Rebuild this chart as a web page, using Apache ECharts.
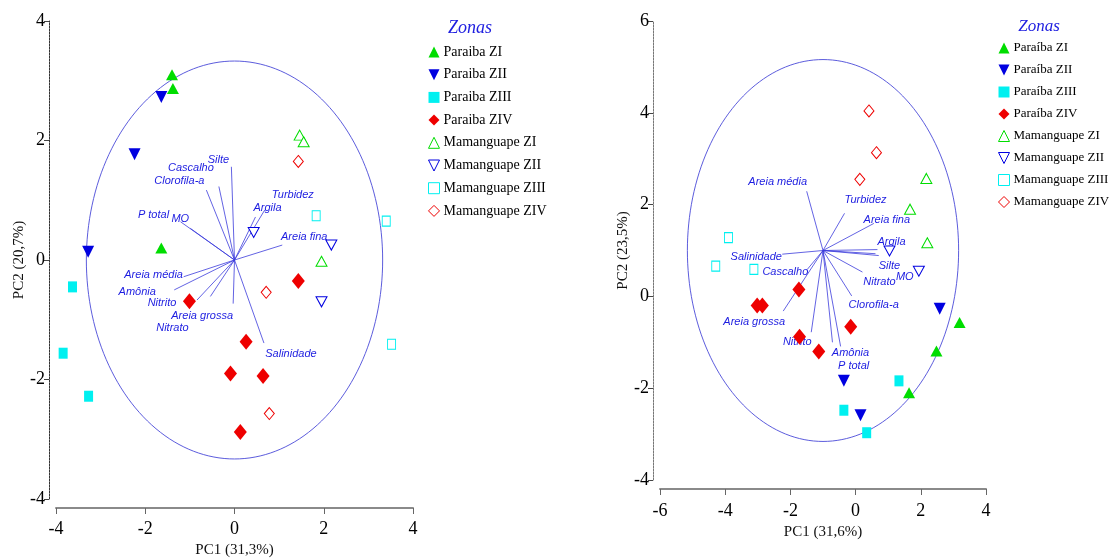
<!DOCTYPE html>
<html>
<head>
<meta charset="utf-8">
<script src="https://cdn.jsdelivr.net/npm/echarts@6/dist/echarts.min.js"></script>
<style>
  html, body { margin: 0; padding: 0; background: #fff; }
  #chart { width: 1109px; height: 558px; }
</style>
</head>
<body>
<div id="chart"></div>
<script>
// ---- Zone names (legend entries) ----
const zonesA = ['Paraiba ZI', 'Paraiba ZII', 'Paraiba ZIII', 'Paraiba ZIV',
                'Mamanguape ZI', 'Mamanguape ZII', 'Mamanguape ZIII', 'Mamanguape ZIV'];
const zonesB = ['Paraíba ZI', 'Paraíba ZII', 'Paraíba ZIII', 'Paraíba ZIV',
                'Mamanguape ZI', 'Mamanguape ZII', 'Mamanguape ZIII', 'Mamanguape ZIV'];

// ---- PCA scores, first ordination (PC1 31,3% / PC2 20,7%) ----
const aParZI   = [[-1.40, 3.10], [-1.38, 2.87], [-1.64, 0.20]];
const aParZII  = [[-1.64, 2.73], [-2.24, 1.77], [-3.28, 0.14]];
const aParZIII = [[-3.63, -0.45], [-3.84, -1.56], [-3.27, -2.28]];
const aParZIV  = [[1.43, -0.35], [-1.01, -0.69], [0.26, -1.37], [-0.09, -1.90], [0.64, -1.94], [0.13, -2.88]];
const aMamZI   = [[1.46, 2.09], [1.55, 1.98], [1.95, -0.02]];
const aMamZII  = [[0.43, 0.46], [2.17, 0.25], [1.95, -0.70]];
const aMamZIII = [[1.83, 0.74], [3.40, 0.65], [3.52, -1.41]];
const aMamZIV  = [[1.43, 1.65], [0.71, -0.54], [0.78, -2.57]];

// ---- PCA scores, second ordination (PC1 31,6% / PC2 23,5%) ----
const bParZI   = [[3.19, -0.57], [2.48, -1.19], [1.64, -2.10]];
const bParZII  = [[2.58, -0.27], [-0.36, -1.84], [0.15, -2.59]];
const bParZIII = [[1.33, -1.84], [-0.36, -2.48], [0.34, -2.97]];
const bParZIV  = [[-1.74, 0.15], [-3.02, -0.20], [-2.86, -0.20], [-0.15, -0.66], [-1.72, -0.88], [-1.13, -1.20]];
const bMamZI   = [[2.17, 2.57], [1.67, 1.90], [2.20, 1.17]];
const bMamZII  = [[1.04, 0.99], [1.94, 0.55]];
const bMamZIII = [[-3.90, 1.28], [-4.29, 0.66], [-3.12, 0.59]];
const bMamZIV  = [[0.41, 4.04], [0.64, 3.13], [0.13, 2.55]];

// ---- Environmental variables (vector tips) ----
const varsA = ['Silte', 'Cascalho', 'Clorofila-a', 'P total', 'MO', 'Turbidez', 'Argila',
               'Areia fina', 'Areia média', 'Amônia', 'Nitrito', 'Areia grossa', 'Nitrato', 'Salinidade'];
const loadA = [[-0.07, 1.56], [-0.35, 1.23], [-0.63, 1.17], [-1.21, 0.64], [-0.99, 0.53], [0.68, 0.84], [0.47, 0.72],
               [1.07, 0.25], [-1.14, -0.28], [-1.35, -0.50], [-0.84, -0.67], [-0.03, -0.73], [-0.54, -0.61], [0.66, -1.39]];
const originA = [0, 0];

const varsB = ['Areia média', 'Turbidez', 'Areia fina', 'Argila', 'Silte', 'MO', 'Nitrato', 'Clorofila-a',
               'Amônia', 'P total', 'Nitrito', 'Areia grossa', 'Cascalho', 'Salinidade'];
const loadB = [[-1.50, 2.29], [-0.34, 1.81], [0.56, 1.59], [0.67, 1.02], [0.61, 0.93], [0.71, 0.89], [0.21, 0.53],
               [-0.12, 0.01], [-0.71, -1.00], [-0.46, -1.09], [-1.36, -0.78], [-2.22, -0.32], [-1.48, 0.59], [-2.25, 0.92]];
const originB = [-1, 1];

// ---- Correlation circles: centre x, centre y, radius x, radius y ----
const circleA = [0, 0, 3.32, 3.33];
const circleB = [-1, 1, 4.16, 4.16];

// ---- Axis tick values ----
const ticksXA = [-4, -2, 0, 2, 4];
const ticksYA = [-4, -2, 0, 2, 4];
const ticksXB = [-6, -4, -2, 0, 2, 4];
const ticksYB = [-4, -2, 0, 2, 4, 6];

// Label placement (pixel shift from each vector tip)
const shiftA = [[-13, -7], [-28, -19], [-27, -9], [-27, -7], [-10, -9], [28, -15], [12, -9],
                [22, -8], [-30, -2], [-37, 2], [-35, 3], [-31, 12], [-38, 31], [27, 11]];
const shiftB = [[-29, -9], [21, -13], [13, -3], [14, -8], [14, 12], [26, 21], [17, 10],
                [22, 9], [18, 11], [13, 20], [-14, 10], [-29, 11], [-22, 3], [-26, 3]];

// ---- Styling ----
const GREEN = '#00dd00', BLUE = '#0000e0', CYAN = '#00f0f0', RED = '#ee0000';
const DOWN = 'path://M0,0L10,0L5,10Z';
const markerStyles = [
  { symbol: 'triangle', size: [12, 11], color: GREEN, hollow: false },
  { symbol: DOWN, size: [12, 12], color: BLUE, hollow: false },
  { symbol: 'rect', size: [9, 11], color: CYAN, hollow: false },
  { symbol: 'diamond', size: [13, 16], color: RED, hollow: false },
  { symbol: 'triangle', size: [11, 10], color: GREEN, hollow: true },
  { symbol: DOWN, size: [11, 10], color: BLUE, hollow: true },
  { symbol: 'rect', size: [8, 10], color: CYAN, hollow: true },
  { symbol: 'diamond', size: [10, 12], color: RED, hollow: true }
];
const VEC_COLOR = '#3b3bdc';
const LABEL_COLOR = '#1c1ce0';
const SERIF = '"Liberation Serif", "Times New Roman", serif';
const SANS = '"Liberation Sans", Arial, sans-serif';

function scatterSeries(names, groups, idx) {
  return groups.map((pts, k) => {
    const m = markerStyles[k];
    return {
      type: 'scatter', name: names[k], xAxisIndex: idx, yAxisIndex: idx,
      data: pts, symbol: m.symbol, symbolSize: m.size, z: 5,
      itemStyle: m.hollow
        ? { color: '#ffffff', borderColor: m.color, borderWidth: 1, opacity: 1 }
        : { color: m.color, borderWidth: 0, opacity: 1 }
    };
  });
}

function circleSeries(c, idx) {
  return {
    type: 'custom', xAxisIndex: idx, yAxisIndex: idx, silent: true, z: 2,
    data: [[c[0], c[1]]],
    renderItem: function (params, api) {
      const pts = [];
      for (let i = 0; i <= 180; i++) {
        const t = i / 180 * Math.PI * 2;
        pts.push(api.coord([c[0] + c[2] * Math.cos(t), c[1] + c[3] * Math.sin(t)]));
      }
      return { type: 'polyline', shape: { points: pts },
               style: { stroke: '#4a4ad8', lineWidth: 0.9, fill: null } };
    }
  };
}

function vectorSeries(names, loads, origin, shifts, idx) {
  return {
    type: 'custom', xAxisIndex: idx, yAxisIndex: idx, silent: true, z: 3,
    data: loads.map((p, i) => [p[0], p[1], i]),
    renderItem: function (params, api) {
      const i = api.value(2);
      const p0 = api.coord(origin);
      const p1 = api.coord([api.value(0), api.value(1)]);
      return {
        type: 'group',
        children: [
          { type: 'line', shape: { x1: p0[0], y1: p0[1], x2: p1[0], y2: p1[1] },
            style: { stroke: VEC_COLOR, lineWidth: 0.8 } },
          { type: 'text', x: p1[0] + shifts[i][0], y: p1[1] + shifts[i][1],
            style: { text: names[i], fill: LABEL_COLOR, font: 'italic 11px ' + SANS,
                     align: 'center', verticalAlign: 'middle' } }
        ]
      };
    }
  };
}

function xAxisDef(idx, ticks, title, gap, labelMargin) {
  return {
    type: 'value', gridIndex: idx, min: ticks[0], max: ticks[ticks.length - 1],
    interval: ticks[1] - ticks[0], offset: 9,
    name: title, nameLocation: 'middle', nameGap: gap,
    nameTextStyle: { fontFamily: SERIF, fontSize: 15, color: '#111' },
    splitLine: { show: false },
    axisLine: { show: true, onZero: false, lineStyle: { color: '#8a8a8a', width: 2 } },
    axisTick: { show: true, length: 6, lineStyle: { color: '#666', width: 1 } },
    axisLabel: { fontFamily: SERIF, fontSize: 18, color: '#000', margin: labelMargin }
  };
}

function yAxisDef(idx, ticks, title, gap, lineColor) {
  return {
    type: 'value', gridIndex: idx, min: ticks[0], max: ticks[ticks.length - 1],
    interval: ticks[1] - ticks[0], offset: 7,
    name: title, nameLocation: 'middle', nameGap: gap, nameRotate: 90,
    nameTextStyle: { fontFamily: SERIF, fontSize: 15, color: '#111' },
    splitLine: { show: false },
    axisLine: { show: true, onZero: false, lineStyle: { color: lineColor, width: 1, type: [2, 1] } },
    axisTick: { show: true, length: 5, lineStyle: { color: '#444', width: 1 } },
    axisLabel: { fontFamily: SERIF, fontSize: 18, color: '#000', margin: 4 }
  };
}

function legendDef(names, left, top, fontSize, gap) {
  return {
    orient: 'vertical', left: left, top: top, data: names,
    itemWidth: 11, itemHeight: 11, itemGap: gap, padding: 0,
    selectedMode: false,
    itemStyle: { borderWidth: 1 },
    textStyle: { fontFamily: SERIF, fontSize: fontSize, color: '#000', lineHeight: 16, padding: [0, 0, 0, -1] }
  };
}

const chart = echarts.init(document.getElementById('chart'), null, { renderer: 'canvas' });

const option = {
  animation: false,
  backgroundColor: '#ffffff',
  grid: [
    { left: 56, top: 21, width: 357, height: 478, outerBoundsMode: 'none', containLabel: false },
    { left: 660, top: 21, width: 326, height: 459, outerBoundsMode: 'none', containLabel: false }
  ],
  xAxis: [
    xAxisDef(0, ticksXA, 'PC1 (31,3%)', 33, 12),
    xAxisDef(1, ticksXB, 'PC1 (31,6%)', 33, 13)
  ],
  yAxis: [
    yAxisDef(0, ticksYA, 'PC2 (20,7%)', 22, '#333'),
    yAxisDef(1, ticksYB, 'PC2 (23,5%)', 22, '#777')
  ],
  legend: [
    legendDef(zonesA, 428, 44, 14, 6.7),
    legendDef(zonesB, 998, 40, 13, 6)
  ],
  graphic: [
    { type: 'text', x: 470, y: 28, style: { text: 'Zonas', fill: '#2020e0',
      font: 'italic 18px ' + SERIF, align: 'center', verticalAlign: 'middle' } },
    { type: 'text', x: 1039, y: 27, style: { text: 'Zonas', fill: '#2020e0',
      font: 'italic 17px ' + SERIF, align: 'center', verticalAlign: 'middle' } }
  ],
  series: [
    circleSeries(circleA, 0),
    vectorSeries(varsA, loadA, originA, shiftA, 0),
    ...scatterSeries(zonesA, [aParZI, aParZII, aParZIII, aParZIV, aMamZI, aMamZII, aMamZIII, aMamZIV], 0),
    circleSeries(circleB, 1),
    vectorSeries(varsB, loadB, originB, shiftB, 1),
    ...scatterSeries(zonesB, [bParZI, bParZII, bParZIII, bParZIV, bMamZI, bMamZII, bMamZIII, bMamZIV], 1)
  ]
};

chart.setOption(option);
</script>
</body>
</html>
